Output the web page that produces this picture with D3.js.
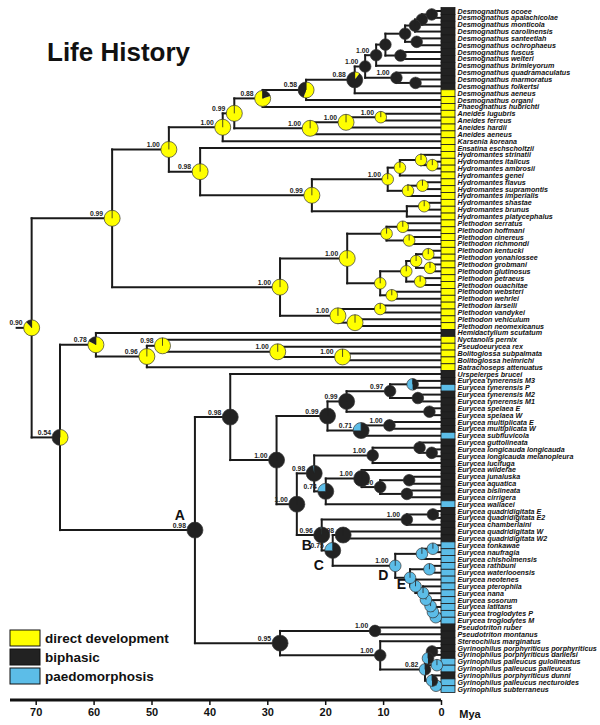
<!DOCTYPE html>
<html><head><meta charset="utf-8">
<script src="https://cdn.jsdelivr.net/npm/d3@7"></script>
<style>body{margin:0;background:#fff} svg{display:block} text{font-family:"Liberation Sans",Arial,sans-serif}</style>
</head><body><svg id="c" width="600" height="725"></svg>
<script>
const tipNames = ["Desmognathus ocoee","Desmognathus apalachicolae","Desmognathus monticola","Desmognathus carolinensis","Desmognathus santeetlah","Desmognathus ochrophaeus","Desmognathus fuscus","Desmognathus welteri","Desmognathus brimleyorum","Desmognathus quadramaculatus","Desmognathus marmoratus","Desmognathus folkertsi","Desmognathus aeneus","Desmognathus organi","Phaeognathus hubrichti","Aneides lugubris","Aneides ferreus","Aneides hardii","Aneides aeneus","Karsenia koreana","Ensatina eschscholtzii","Hydromantes strinatii","Hydromantes italicus","Hydromantes ambrosii","Hydromantes genei","Hydromantes flavus","Hydromantes supramontis","Hydromantes imperialis","Hydromantes shastae","Hydromantes brunus","Hydromantes platycephalus","Plethodon serratus","Plethodon hoffmani","Plethodon cinereus","Plethodon richmondi","Plethodon kentucki","Plethodon yonahlossee","Plethodon grobmani","Plethodon glutinosus","Plethodon petraeus","Plethodon ouachitae","Plethodon websteri","Plethodon wehrlei","Plethodon larselli","Plethodon vandykei","Plethodon vehiculum","Plethodon neomexicanus","Hemidactylium scutatum","Nyctanolis pernix","Pseudoeurycea rex","Bolitoglossa subpalmata","Bolitoglossa helmrichi","Batrachoseps attenuatus","Urspelerpes brucei","Eurycea tynerensis M3","Eurycea tynerensis P","Eurycea tynerensis M2","Eurycea tynerensis M1","Eurycea spelaea E","Eurycea spelaea W","Eurycea multiplicata E","Eurycea multiplicata W","Eurycea subfluvicola","Eurycea guttolineata","Eurycea longicauda longicauda","Eurycea longicauda melanopleura","Eurycea lucifuga","Eurycea wilderae","Eurycea junaluska","Eurycea aquatica","Eurycea bislineata","Eurycea cirrigera","Eurycea wallacei","Eurycea quadridigitata E","Eurycea quadridigitata E2","Eurycea chamberlaini","Eurycea quadridigitata W","Eurycea quadridigitata W2","Eurycea tonkawae","Eurycea naufragia","Eurycea chisholmensis","Eurycea rathbuni","Eurycea waterlooensis","Eurycea neotenes","Eurycea pterophila","Eurycea nana","Eurycea sosorum","Eurycea latitans","Eurycea troglodytes P","Eurycea troglodytes M","Pseudotriton ruber","Pseudotriton montanus","Stereochilus marginatus","Gyrinophilus porphyriticus porphyriticus","Gyrinophilus porphyriticus danielsi","Gyrinophilus palleucus gulolineatus","Gyrinophilus palleucus palleucus","Gyrinophilus porphyriticus dunni","Gyrinophilus palleucus necturoides","Gyrinophilus subterraneus"];
// 0 = direct development, 1 = biphasic, 2 = paedomorphosis
const tipStates = [1,1,1,1,1,1,1,1,1,1,1,1, 0,0,0,0,0,0,0,0,0,0,0,0,0,0,0,0,0,0,0,0,0,0,0,0,0,0,0,0,0,0,0,0,0,0,0, 1, 0,0,0,0,0, 1,1,2,1,1,1,1,1,1,2, 1,1,1,1,1,1,1,1,1,2, 1,1,1,1,1, 2,2,2,2,2,2,2,2,2,2,2,2, 1,1,1,1,1,2,2,1,2,2];
const stateNames = ["direct development","biphasic","paedomorphosis"];
const Y=[1,0,0], B=[0,1,0], P=[0,0,1];
// [id, children (tip numbers or node ids), age in Mya, posterior support, state probabilities]
const nodes = [
["a",[1,2],1.6,null,B],["b",["a",3],3.3,null,B],["c",["b",4],4.5,null,B],["e",[5,6],4.2,null,B],
["d",["c","e"],6.2,null,B],["g",[7,8],7.0,null,B],["f",["d","g"],9.6,null,B],["h",["f",9],11.2,"1.00",B],
["l",[11,12],4.4,null,B],["k",[10,"l"],7.7,"1.00",B],["i",["h","k"],13.1,"1.00",B],
["j",["i",13],14.9,"0.88",[0.1,0.9,0]],["n058",["j",14],23.3,"0.58",[0.55,0.45,0]],
["n088",["n058",15],30.8,"0.88",[0.8,0.2,0]],
["an1",[16,17],10.4,"1.00",Y],["an2",["an1",18],16.4,"1.00",Y],["an3",["an2",19],22.6,"1.00",Y],
["n099a",["n088","an3"],35.7,"0.99",Y],["n100a",["n099a",20],37.7,"1.00",Y],
["hy1",[23,24],1.5,null,Y],["hy2",[22,"hy1"],3.45,null,Y],["hy3",["hy2",25],7.1,null,Y],
["hy4",[26,27],3.2,null,Y],["hy5",["hy4",28],5.7,null,Y],["hy6",["hy3","hy5"],9.2,"1.00",Y],
["hy7",[29,30],2.9,null,Y],["hy8",["hy7",31],5.9,null,null],["hyR",["hy6","hy8"],22.3,"0.99",Y],
["n098a",[21,"hyR"],41.6,"0.98",Y],["n100b",["n100a","n098a"],47.0,"1.00",Y],
["pl1",[32,33],6.6,null,Y],["pl2",[34,35],5.5,null,Y],["pl3",["pl1","pl2"],9.4,null,Y],
["pl4",[36,37],2.2,null,Y],["pl5",[38,39],1.9,null,Y],["pl6",["pl4","pl5"],4.3,null,Y],
["pl7",[40,41],3.6,null,Y],["pl8",["pl6","pl7"],6.0,null,Y],["pl9",[42,43],8.5,null,Y],
["pl10",["pl8","pl9"],10.5,null,Y],["plE",["pl3","pl10"],16.2,"1.00",Y],
["pl11",[44,45],10.5,null,Y],["pl12",[46,47],14.85,null,Y],["plW",["pl11","pl12"],17.8,"1.00",Y],
["plR",["plE","plW"],27.8,"1.00",Y],["n099b",["n100b","plR"],56.8,"0.99",Y],
["bol",[51,52],17.0,"1.00",Y],["n100c",[50,"bol"],28.2,"1.00",Y],["n098c",[49,"n100c"],48.1,"0.98",Y],
["n096",["n098c",53],50.8,"0.96",Y],["n078",[48,"n096"],59.6,"0.78",[0.82,0.18,0]],
["ty1",[55,56],4.9,null,[0,0.5,0.5]],["ty2",[57,58],4.0,null,B],["n097",["ty1","ty2"],8.8,"0.97",B],
["sp",[59,60],2.0,null,B],["n099c",["n097","sp"],16.3,"0.99",B],["mu",[61,62],8.9,"1.00",B],
["n071",["mu",63],13.8,"0.71",[0,0.75,0.25]],["n099d",["n099c","n071"],19.6,"0.99",B],
["lo1",[65,66],1.6,null,B],["lo2",[64,"lo1"],3.7,null,B],["n100d",["lo2",67],11.8,"1.00",B],
["bi1",[69,70],5.5,null,B],["bi2",[71,72],5.9,null,B],["n100e",["bi1","bi2"],10.5,"1.00",B],
["n100f",[68,"n100e"],13.7,"1.00",B],["n074",["n100f",73],19.9,"0.74",[0,0.75,0.25]],
["n098d",["n100d","n074"],21.9,"0.98",[0,0.98,0.02]],
["q1",[74,75],1.4,null,B],["q2",["q1",76],5.9,"1.00",B],["n098e",[77,78],16.9,"0.98",B],
["tx1",[79,80],1.4,null,P],["tx2",["tx1",81],3.3,null,P],["tx3",[82,83],2.0,null,P],
["e1",[89,90],0.9,null,P],["e2",[88,"e1"],1.4,null,P],["e3",[87,"e2"],1.8,null,P],
["e4",[86,"e3"],2.6,null,P],["e5",[85,"e4"],3.1,null,P],["E",[84,"e5"],4.4,null,P],
["tx4",["tx3","E"],5.35,null,P],["D",["tx2","tx4"],7.9,"1.00",P],
["C",["n098e","D"],18.7,"0.75",[0,0.75,0.25]],["B",["q2","C"],20.6,"0.96",[0,0.98,0.02]],
["n100g",["n098d","B"],24.9,"1.00",B],["n100h",["n099d","n100g"],28.4,"1.00",B],
["n098f",[54,"n100h"],36.4,"0.98",B],
["P1",[91,92],11.4,"1.00",B],["g1",[94,95],1.55,null,B],["g2",[96,97],0.7,null,P],
["g3",["g1","g2"],2.25,null,[0,0.5,0.5]],["g4",[99,100],0.86,null,P],["g5",[98,"g4"],1.55,null,[0,0.5,0.5]],
["g6",["g3","g5"],2.76,"0.82",[0,0.5,0.5]],["S",[93,"g6"],10.5,"1.00",B],["X",["P1","S"],27.8,"0.95",B],
["A",["n098f","X"],42.5,"0.98",B],["n054",["n078","A"],65.8,"0.54",[0.5,0.5,0]],
["root",["n099b","n054"],70.7,"0.90",[0.88,0.12,0]]
];
const mirroredPies = ["n088"];
const cladeLetters = ["A","B","C","D","E"];
const axisTicks = [70,60,50,40,30,20,10,0];
const axisUnit = "Mya";
const title = "Life History";

const colors = ["#ffff00","#222222","#5cbde8"];
const svg = d3.select("#c");
const x = d3.scaleLinear().domain([0,70]).range([441,35.7]);
const y = d3.scaleLinear().domain([1,100]).range([11,689.15]);

const pos = {};
tipNames.forEach((n,i)=>{pos[i+1]={x:x(0),y:y(i+1)};});
nodes.forEach(([id,kids,age])=>{
  const ys = kids.map(k=>pos[k].y);
  pos[id]={x:x(age),y:(ys[0]+ys[ys.length-1])/2};
});

const gB = svg.append("g").attr("stroke","#1a1a1a").attr("stroke-width",2).attr("fill","none").attr("stroke-linecap","square");
nodes.forEach(([id,kids])=>{
  const p=pos[id];
  const ys=kids.map(k=>pos[k].y);
  gB.append("path").attr("d",`M${p.x},${d3.min(ys)}V${d3.max(ys)}`);
  kids.forEach(k=>gB.append("path").attr("d",`M${p.x},${pos[k].y}H${pos[k].x}`));
});
gB.append("path").attr("d",`M${pos.root.x-15},${pos.root.y}H${pos.root.x}`);

const bh = y(2)-y(1);
svg.append("g").selectAll("rect").data(tipNames).join("rect")
  .attr("x",x(0)).attr("y",(d,i)=>y(i+1)-bh/2).attr("width",14).attr("height",bh)
  .attr("fill",(d,i)=>colors[tipStates[i]]).attr("stroke","#1a1a1a").attr("stroke-width",0.8);
svg.append("g").selectAll("text").data(tipNames).join("text")
  .attr("x",x(0)+16.5).attr("y",(d,i)=>y(i+1)).attr("dy","0.35em")
  .attr("font-size",7.15).attr("font-weight","bold").attr("font-style","italic").attr("fill","#111")
  .text(d=>d);

const gP = svg.append("g");
const gL = svg.append("g").attr("font-size",6.8).attr("font-weight","bold").attr("fill","#222").attr("text-anchor","end");
nodes.forEach(([id,kids,age,sup,pr])=>{
  if(!pr) return;
  const p=pos[id];
  const r = age>13.5?8:5.8;
  const pie = d3.pie().sort(null).value(d=>d).startAngle(0).endAngle(mirroredPies.includes(id)?-2*Math.PI:2*Math.PI);
  const g=gP.append("g").attr("transform",`translate(${p.x},${p.y})`);
  const arc=d3.arc().innerRadius(0).outerRadius(r);
  pie(pr).forEach((s,i)=>{ if(Math.abs(s.endAngle-s.startAngle)>0.001) g.append("path").attr("d",arc(s)).attr("fill",colors[i]); });
  g.append("circle").attr("r",r).attr("fill","none").attr("stroke","#333").attr("stroke-width",0.7);
  g.append("line").attr("x1",0).attr("y1",0).attr("x2",0).attr("y2",-r).attr("stroke","#222").attr("stroke-width",0.8);
  if(sup) gL.append("text").attr("x",p.x-r-1).attr("y",p.y-2.5).text(sup);
});

const letterOff = {A:[-15,-10],B:[-15,15],C:[-14,20],D:[-12,14],E:[-14,2.5]};
cladeLetters.forEach(L=>{
  const p=pos[L];
  svg.append("text").attr("x",p.x+letterOff[L][0]).attr("y",p.y+letterOff[L][1]).attr("text-anchor","middle")
    .attr("font-size",14).attr("font-weight","bold").attr("fill","#111").text(L);
});

svg.append("text").attr("x",47).attr("y",61).attr("font-size",26).attr("font-weight","bold").attr("fill","#111").text(title);

const lg = svg.append("g");
stateNames.forEach((s,i)=>{
  lg.append("rect").attr("x",10).attr("y",630+i*19).attr("width",30).attr("height",16).attr("fill",colors[i]).attr("stroke","#111").attr("stroke-width",1);
  lg.append("text").attr("x",45).attr("y",630+i*19+8).attr("dy","0.35em").attr("font-size",13.5).attr("font-weight","bold").attr("fill","#111").text(s);
});

const ax = svg.append("g").attr("transform","translate(0,700)")
  .call(d3.axisBottom(x).tickValues(axisTicks).tickSize(5).tickFormat(d3.format("d")));
ax.select(".domain").attr("d",`M10,0H${x(0)}`).attr("stroke","#111").attr("stroke-width",3);
ax.selectAll(".tick line").attr("stroke","#111").attr("stroke-width",1.5);
ax.selectAll(".tick text").attr("font-size",11).attr("font-weight","bold").attr("fill","#111").attr("font-family","Liberation Sans, Arial, sans-serif");
svg.append("text").attr("x",470).attr("y",718).attr("text-anchor","middle").attr("font-size",11).attr("font-weight","bold").attr("fill","#111").text(axisUnit);
</script></body></html>
